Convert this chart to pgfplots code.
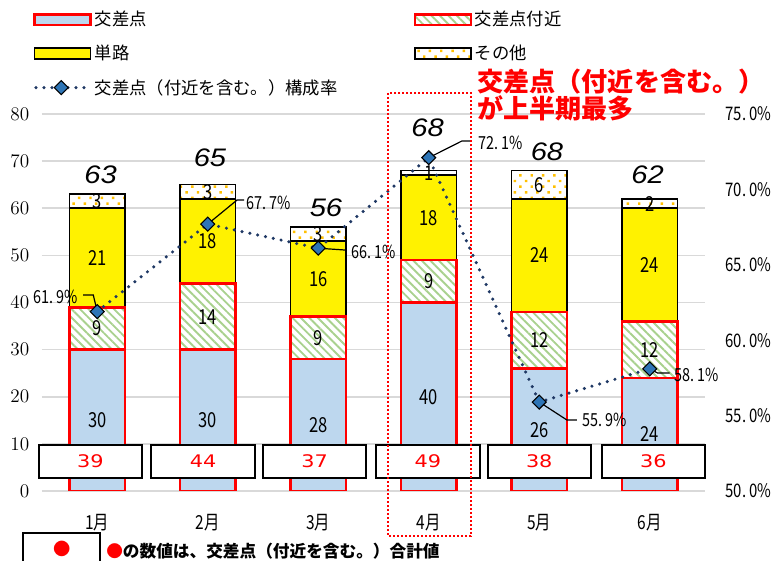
\documentclass[border=0pt]{standalone}
\usepackage{fontspec}
\setmainfont{Noto Sans CJK JP}
\newfontfamily\nf[FakeStretch=0.8]{Noto Sans CJK JP}
\newfontfamily\tf[FakeStretch=1.15]{Liberation Sans}
\newfontfamily\rf[FakeStretch=1.2]{DejaVu Sans}
\usepackage{pgfplots}
\pgfplotsset{compat=1.18}
\usetikzlibrary{patterns.meta}
\definecolor{bblue}{HTML}{BDD7EE}
\definecolor{hgreen}{HTML}{A9D18E}
\definecolor{dotc}{HTML}{FFC000}
\definecolor{navy}{HTML}{1F3864}
\definecolor{mblue}{HTML}{2E75B6}
\definecolor{gridc}{HTML}{D9D9D9}
\pgfplotsset{mybar legend/.style={legend image code/.code={\draw[##1] (0pt,-4pt) rectangle (42pt,4pt);}}}
\newcommand{\bl}[3]{\node[font=\nf\fontsize{15.5}{16}\selectfont] at (axis cs:#1,#2) {#3};}
\newcommand{\tot}[3]{\node[font=\tf\itshape\fontsize{19}{20}\selectfont] at (axis cs:#1,#2) {#3};}
\newcommand{\rb}[2]{\node[draw=black, line width=1.5pt, fill=white, minimum width=77.5pt, minimum height=24.75pt, inner sep=0pt, text=red, font=\rf\fontsize{13}{14}\selectfont] at (axis cs:#1,6.3) {#2};}
\begin{document}
\begin{tikzpicture}[x=0.75pt,y=0.75pt]
\begin{axis}[
  scale only axis, width=497.25pt, height=282.75pt,
  ybar stacked, bar width=0.5,
  xmin=-0.5, xmax=5.5, ymin=0, ymax=80,
  xtick={0,...,5}, xticklabels={1月,2月,3月,4月,5月,6月},
  ytick={0,10,...,80},
  ymajorgrids, major grid style={gridc, line width=1.2pt},
  axis line style={draw=none}, major tick length=0pt,
  tick label style={font=\nf\fontsize{14.5}{16}\selectfont},
  yticklabel style={xshift=-6pt},
  xticklabel style={yshift=-14pt},
  legend columns=2, legend cell align=left,
  legend style={draw=none, fill=none, at={(-0.0136,1.280)}, anchor=north west,
    inner sep=0pt, row sep=9pt, column sep=0pt, nodes={inner sep=2pt},
    font=\fontsize{13}{15}\selectfont},
]
\addplot[fill=bblue, draw=red, line width=2pt, mybar legend] coordinates {(0,30)(1,30)(2,28)(3,40)(4,26)(5,24)};
\addlegendentry{\makebox[237pt][l]{交差点}}
\addplot[fill=white, draw=red, line width=2pt, postaction={pattern={Lines[angle=-45,distance=4.5pt,line width=1.4pt]},pattern color=hgreen}, mybar legend] coordinates {(0,9)(1,14)(2,9)(3,9)(4,12)(5,12)};
\addlegendentry{交差点付近}
\addplot[fill=yellow, draw=black, line width=1.2pt, mybar legend] coordinates {(0,21)(1,18)(2,16)(3,18)(4,24)(5,24)};
\addlegendentry{\makebox[237pt][l]{単路}}
\addplot[fill=white, draw=black, line width=1.2pt, postaction={pattern={Dots[angle=45,distance=6pt,radius=1.3pt]},pattern color=dotc}, mybar legend] coordinates {(0,3)(1,3)(2,3)(3,1)(4,6)(5,2)};
\addlegendentry{その他}
\addlegendimage{legend image code/.code={
  \draw[navy, line width=2.6pt, dash pattern=on 0pt off 6pt, line cap=round] (1pt,0pt) -- (42pt,0pt);
  \draw[fill=mblue, draw=black, line width=0.8pt] (20pt,5.2pt) -- (25.2pt,0pt) -- (20pt,-5.2pt) -- (14.8pt,0pt) -- cycle;}}
\addlegendentry{交差点（付近を含む。）構成率}
\coordinate (O) at (axis cs:-0.5,0);
\end{axis}
\begin{axis}[
  scale only axis, width=497.25pt, height=282.75pt,
  xmin=-0.5, xmax=5.5, ymin=50, ymax=75, clip=false,
  axis y line*=right, axis x line=none,
  axis line style={draw=none}, major tick length=0pt,
  ytick={50,55,...,75},
  yticklabels={50.\,0\%,55.\,0\%,60.\,0\%,65.\,0\%,70.\,0\%,75.\,0\%},
  yticklabel style={font=\nf\fontsize{14}{15}\selectfont, anchor=west, xshift=12pt},
]
\draw[black, line width=0.9pt] (axis cs:0,61.9) -- (axis cs:-0.036,63.0) -- (axis cs:-0.127,63.0);
\draw[black, line width=0.9pt] (axis cs:1,67.7) -- (axis cs:1.266,69.30) -- (axis cs:1.329,69.30);
\draw[black, line width=0.9pt] (axis cs:2,66.1) -- (axis cs:2.242,65.98);
\draw[black, line width=0.9pt] (axis cs:3,72.1) -- (axis cs:3.300,73.21) -- (axis cs:3.382,73.21);
\draw[black, line width=0.9pt] (axis cs:4,55.9) -- (axis cs:4.250,54.71) -- (axis cs:4.340,54.71);
\draw[black, line width=0.9pt] (axis cs:5,58.1) -- (axis cs:5.072,57.82) -- (axis cs:5.181,57.82);
\addplot[navy, line width=2.6pt, dash pattern=on 0pt off 6pt, line cap=round, mark=square*, mark size=3.7pt, mark options={solid, fill=mblue, draw=black, line width=0.8pt, rotate=45}] coordinates {(0,61.9)(1,67.7)(2,66.1)(3,72.1)(4,55.9)(5,58.1)};
\begin{scope}[every node/.style={font=\nf\fontsize{13.5}{15}\selectfont, inner sep=0pt}]
\node[anchor=east] at (axis cs:-0.172,62.86) {61.\,9\%};
\node[anchor=west] at (axis cs:1.347,69.10) {67.\,7\%};
\node[anchor=west] at (axis cs:2.297,65.85) {66.\,1\%};
\node[anchor=west] at (axis cs:3.445,73.08) {72.\,1\%};
\node[anchor=west] at (axis cs:4.385,54.71) {55.\,9\%};
\node[anchor=west] at (axis cs:5.226,57.69) {58.\,1\%};
\end{scope}
\end{axis}
\begin{axis}[
  scale only axis, width=497.25pt, height=282.75pt,
  xmin=-0.5, xmax=5.5, ymin=0, ymax=80, hide axis, clip=false,
]
\bl{0}{15}{30}\bl{0}{34.5}{9}\bl{0}{49.5}{21}\bl{0}{61.5}{3}
\bl{1}{15}{30}\bl{1}{37}{14}\bl{1}{53}{18}\bl{1}{63.5}{3}
\bl{2}{14}{28}\bl{2}{32.5}{9}\bl{2}{45}{16}\bl{2}{54.5}{3}
\bl{3}{20}{40}\bl{3}{44.5}{9}\bl{3}{58}{18}\bl{3}{67.5}{1}
\bl{4}{13}{26}\bl{4}{32}{12}\bl{4}{50}{24}\bl{4}{65}{6}
\bl{5}{12}{24}\bl{5}{30}{12}\bl{5}{48}{24}\bl{5}{61}{2}
\tot{0.03}{67.1}{63}\tot{1.02}{70.7}{65}\tot{2.07}{60.1}{56}
\tot{2.99}{77.0}{68}\tot{4.07}{72.0}{68}\tot{4.98}{67.1}{62}
\rb{-0.063}{39}\rb{0.958}{44}\rb{1.967}{37}\rb{2.993}{49}\rb{4.0}{38}\rb{5.032}{36}
\end{axis}
\pgfresetboundingbox
\begin{scope}[shift={(O)}]
\begin{scope}[shift={(-42,-69)}]
\useasboundingbox (0,0) rectangle (774,560);
\draw[red, line width=1.5pt, dash pattern=on 1.5pt off 1.5pt] (388,467) rectangle (471,24);
\node[anchor=west, text=red, font=\bfseries\fontsize{19.6}{17}\selectfont, align=left, inner sep=0pt] at (477,465) {交差点（付近を含む。）\\が上半期最多};
\draw[black, line width=1.5pt] (23,27) rectangle (100,-10);
\node[text=red, font=\fontsize{13}{14}\selectfont, inner sep=0pt] at (62,11) {●};
\node[anchor=west, font=\bfseries\fontsize{12.5}{14}\selectfont, inner sep=0pt] at (106,9) {\textcolor{red}{●}の数値は、交差点（付近を含む。）合計値};
\end{scope}
\end{scope}
\end{tikzpicture}
\end{document}
